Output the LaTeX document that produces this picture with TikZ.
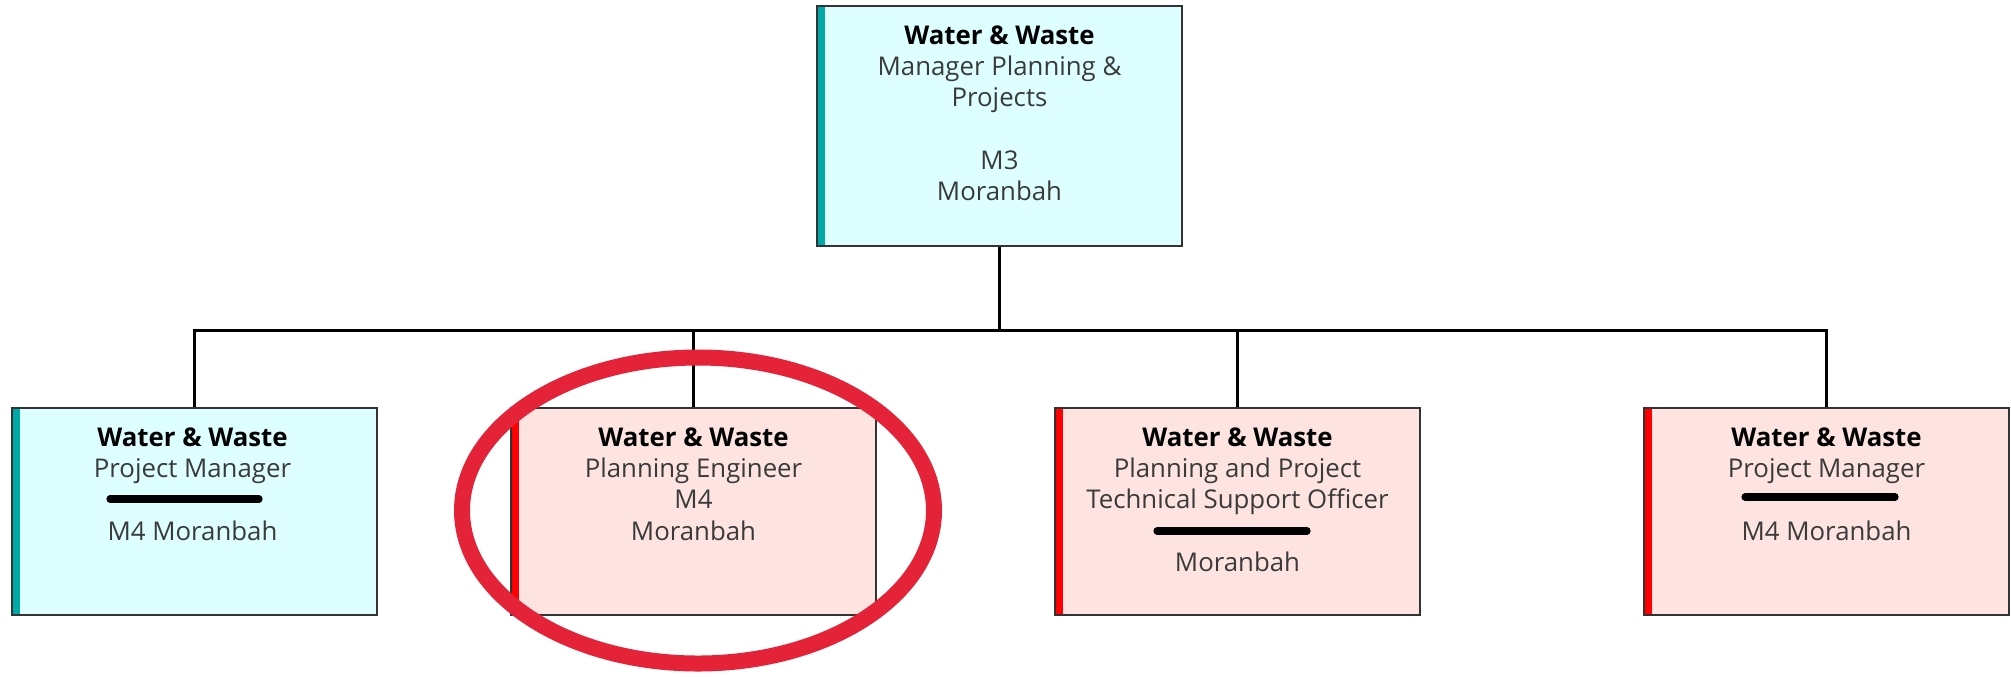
\documentclass[tikz,border=0pt]{standalone}
\usepackage{fontspec}
\setmainfont{Open Sans}
\usetikzlibrary{shapes.geometric}
\definecolor{tealfill}{RGB}{221,255,255}
\definecolor{pinkfill}{RGB}{253,228,225}
\definecolor{tealbar}{RGB}{0,168,168}
\definecolor{redbar}{RGB}{255,0,0}
\definecolor{txtgray}{RGB}{58,58,58}
\definecolor{ringred}{RGB}{228,35,57}
\begin{document}
\begin{tikzpicture}[x=0.5pt, y=-0.5pt,
  post/.style={draw=black!80, line width=0.6pt, minimum width=182.5pt, minimum height=103.5pt, inner sep=0pt},
  teal post/.style={post, fill=tealfill, path picture={\fill[tealbar] (path picture bounding box.south west) rectangle ([xshift=4pt]path picture bounding box.north west);}},
  red post/.style={post, fill=pinkfill, path picture={\fill[redbar] (path picture bounding box.south west) rectangle ([xshift=4pt]path picture bounding box.north west);}},
  caption/.style={anchor=north, align=center, inner sep=0pt, text=txtgray, font=\fontsize{12.9}{15.6}\selectfont},
  wire/.style={line width=1.5pt, draw=black},
  rule/.style={line width=3.6pt, line cap=round}]
  \useasboundingbox (0,0) rectangle (2011,676);
  % Manager at the top
  \node[teal post, minimum height=120pt] (mgr) at (999.5,126) {};
  \node[caption] (mgrtxt) at ([yshift=-10pt]mgr.north) {\textcolor{black}{\bfseries Water \& Waste}\\Manager Planning \&\\Projects\\[15.6pt]M3\\Moranbah};
  % Four positions below
  \node[teal post] (pm1) at (194.5,511.5) {};
  \node[red post]  (pe)  at (693.5,511.5) {};
  \node[red post]  (tso) at (1237.5,511.5) {};
  \node[red post]  (pm2) at (1826.5,511.5) {};
  \node[caption] (pm1txt) at ([xshift=-1pt, yshift=-10pt]pm1.north) {\textcolor{black}{\bfseries Water \& Waste}\\Project Manager\\[15.6pt]M4 Moranbah};
  \node[caption] (petxt)  at ([yshift=-10pt]pe.north)  {\textcolor{black}{\bfseries Water \& Waste}\\Planning Engineer\\M4\\Moranbah};
  \node[caption] (tsotxt) at ([yshift=-10pt]tso.north) {\textcolor{black}{\bfseries Water \& Waste}\\Planning and Project\\Technical Support Officer\\[15.6pt]Moranbah};
  \node[caption] (pm2txt) at ([yshift=-10pt]pm2.north) {\textcolor{black}{\bfseries Water \& Waste}\\Project Manager\\[15.6pt]M4 Moranbah};
  % separators
  \draw[rule] (110,499) -- (259,499);
  \draw[rule] (1157,531) -- (1307,531);
  \draw[rule] (1745,497) -- (1895,497);
  % Connectors
  \coordinate (bus) at (999.5,330);
  \draw[wire] (mgr.south) -- (bus);
  \foreach \p in {pm1,pe,tso,pm2}
    \draw[wire] (bus) -| (\p.north);
  % highlight ring
  \node[ellipse, draw=ringred, line width=8pt, minimum width=236pt, minimum height=153pt, inner sep=0pt] (ring) at (698,510.5) {};
\end{tikzpicture}
\end{document}
